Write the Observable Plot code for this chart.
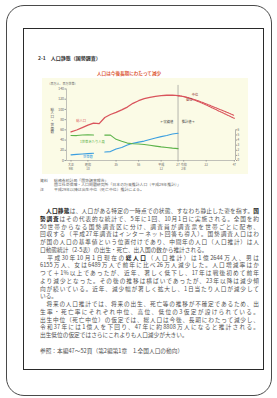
<!DOCTYPE html>
<html><head><meta charset="utf-8">
<script src="https://cdn.jsdelivr.net/npm/d3@7"></script>
<script src="https://cdn.jsdelivr.net/npm/@observablehq/plot@0.6"></script>
<style>
html,body{margin:0;padding:0;background:#fff;}
body{width:277px;height:398px;position:relative;overflow:hidden;font-family:"Noto Sans CJK JP","Noto Sans",sans-serif;}
.abs{position:absolute;white-space:nowrap;}
#frame{left:6px;top:5px;width:266px;height:391px;border:1.5px solid #4a4a4a;border-radius:18px;box-sizing:border-box;}
#page{left:23px;top:28px;width:241px;height:342px;border:1.2px solid #2a2a2a;box-sizing:border-box;}
#hdr{left:38px;top:55px;font-size:5px;line-height:6px;color:#333;font-weight:bold;}
#ttl{left:97px;top:70.5px;font-size:4.6px;line-height:5px;color:#dd5a36;font-weight:bold;}
#chart{left:42px;top:78px;}
.note{font-size:3.9px;line-height:4.5px;color:#666;}
.body{left:40px;width:219px;font-size:5.7px;line-height:7.75px;color:#505050;}
.j{text-align:justify;text-align-last:justify;}
b{font-weight:bold;color:#222}
</style></head><body>
<div id="frame" class="abs"></div>
<div id="page" class="abs"></div>
<div id="hdr" class="abs">2-1　人口静態（国勢調査）</div>
<div id="ttl" class="abs">人口は今後長期にわたって減少</div>
<div id="chart" class="abs"></div>
<div id="texts"></div>
<script>
// ---- data ----
const censusYears = [1920,1925,1930,1935,1940,1945,1950,1955,1960,1965,1970,1975,1980,1985,1990,1995,2000,2005,2010,2015];
const totalPopulation = [55.96,59.74,64.45,69.25,73.11,72.15,84.12,90.08,94.30,99.21,104.67,111.94,117.06,121.05,123.61,125.57,126.93,127.77,128.06,127.09];
const projYears = [2015,2020,2025,2030,2035,2040,2045,2050,2055,2060,2065];
const projMedium = [127.09,125.33,122.54,119.13,115.22,110.92,106.42,101.92,97.44,92.84,88.08];
const projLow = [127.09,125.1,121.9,118.0,113.5,108.6,103.5,98.2,93.0,87.7,82.5];
const hhYearsPre = [1920,1925,1930,1935,1940];
const householdsPre = [11.1,11.9,12.6,13.4,14.2];
const hhYearsPost = [1950,1955,1960,1965,1970,1975,1980,1985,1990,1995,2000,2005,2010,2015];
const householdsPost = [16.6,17.4,22.5,25.3,30.3,33.6,36.0,38.0,41.0,44.1,46.8,49.1,51.8,53.3];
const sizePre = [4.89,4.88,4.98,5.03,4.99];
const sizePost = [4.97,4.97,4.14,3.75,3.41,3.28,3.22,3.14,2.99,2.82,2.67,2.55,2.42,2.33];
const yTicks = [0,20,40,60,80,100,120,140];
const sizeTicks = [0,1,2,3,4,5,6];
const xTickYears = [1920,1935,1960,1980,2000,2015,2020,2040,2065];
const xTickLabels = ["大正\n9年","昭和\n10","35","55","平成\n12","27","令和\n2年","22","47"];
const seriesLabels = ["総人口","1世帯あたり人員","世帯数"];
const seriesLabelYears = [1929,1939,1935];
const seriesLabelValues = [76.5,36,7];
const variantLabels = ["中位","低位"];
const variantLabelYears = [2030,2025];
const variantLabelValues = [129,119.5];
const periodLabels = ["←実績値","推計値→"];
const periodLabelYears = [2005,2024];
const periodLabelValue = 75;
const yAxisTitle = "総人口・世帯数";
const unitsLabel = "（百万人、百万世帯）";

const noteLines = [["資料","総務省統計局「国勢調査報告」"],
  ["","国立社会保障・人口問題研究所「日本の将来推計人口（平成29年推計）」"],
  ["注","平成29年以降は出生中位（死亡中位）推計による。"]];
const bodyLines = [
 "　**人口静態**は、人口がある特定の一時点での状態、すなわち静止した姿を指す。**国**",
 "**勢調査**はその代表的な統計で、5年に1回、10月1日に実施される。全国を約",
 "50世帯からなる国勢調査区に分け、調査員が調査票を世帯ごとに配布、",
 "回収する（平成27年調査はインターネット回答も導入）。国勢調査人口はわ",
 "が国の人口の基準値という位置付けであり、中間年の人口（人口推計）は人",
 "口動態統計（2-5表）の出生・死亡、出入国の数から推計される。",
 "　平成30年10月1日現在の**総人口**（人口推計）は1億2644万人、男は",
 "6155万人、女は6489万人で前年に比べ26万人減少した。人口増減率はか",
 "つて＋1%以上であったが、近年、著しく低下し、17年は戦後初めて前年",
 "より減少となった。その後の推移は横ばいであったが、23年以降は減少傾",
 "向が続いている。近年、減少幅が著しく拡大し、1日当たり人口が減少して",
 "いる。",
 "　将来の人口推計では、将来の出生、死亡等の推移が不確定であるため、出",
 "生率・死亡率にそれぞれ中位、高位、低位の3仮定が設けられている。",
 "出生中位（死亡中位）の仮定では、総人口は今後、長期にわたって減少し、",
 "令和37年には1億人を下回り、47年に約8808万人になると推計される。",
 "出生低位の仮定ではさらにこれよりも人口減少が大きい。"];
const justified = [1,1,1,1,1,0,1,1,1,1,1,0,1,1,1,1,0];
const refLine = "参照：本編47～52頁（第2編第1章　1.全国人口の動向）";

// ---- chart ----
const red = "#d9545c", green = "#5cb34a", blue = "#3a9ee0";
const popRows = censusYears.map((year,i)=>({year, value: totalPopulation[i]}));
const projRows = [...projYears.map((year,i)=>({year, value: projMedium[i], v:"m"})),
                  ...projYears.map((year,i)=>({year, value: projLow[i], v:"l"}))];
const hhRows = [...hhYearsPre.map((year,i)=>({year, value: householdsPre[i], seg:1})),
                ...hhYearsPost.map((year,i)=>({year, value: householdsPost[i], seg:2}))];
const sizeRows = [...hhYearsPre.map((year,i)=>({year, value: sizePre[i], seg:1})),
                  ...hhYearsPost.map((year,i)=>({year, value: sizePost[i], seg:2}))];
const sLab = seriesLabels.map((label,i)=>({label, year: seriesLabelYears[i], value: seriesLabelValues[i], color:[red,green,blue][i]}));
const vLab = variantLabels.map((label,i)=>({label, year: variantLabelYears[i], value: variantLabelValues[i]}));
const pLab = periodLabels.map((label,i)=>({label, year: periodLabelYears[i], value: periodLabelValue}));

const chart = Plot.plot({
  width: 206, height: 96,
  marginLeft: 24, marginRight: 13, marginTop: 10.5, marginBottom: 14,
  style: {background: "#fbfbe6", fontFamily: "'Noto Sans CJK JP', sans-serif", overflow: "visible"},
  x: {domain: [1916, 2066]},
  y: {domain: [0, 140]},
  marks: [
    Plot.ruleY([0], {stroke: "#999", strokeWidth: 0.6}),
    Plot.ruleX([1916], {y1: 0, y2: 140, stroke: "#999", strokeWidth: 0.6}),
    Plot.ruleX([2066], {y1: 0, y2: 60, stroke: "#888", strokeWidth: 0.6}),
    Plot.axisY({ticks: yTicks, tickSize: 1.5, tickPadding: 1, fontSize: 3.4, color: "#666", stroke: "#999", label: null}),
    Plot.axisY({anchor: "right", ticks: sizeTicks.map(d=>d*10), tickFormat: d=>String(d/10), tickSize: 1.2, tickPadding: 0.8, fontSize: 3, color: "#666", stroke: "#999", label: null}),
    Plot.axisX({ticks: xTickYears, tickFormat: d => xTickLabels[xTickYears.indexOf(d)], tickSize: 1.5, tickPadding: 1, fontSize: 3, lineHeight: 1.3, color: "#666", stroke: "#999", label: null}),
    Plot.ruleX([2015], {y1: 0, y2: 147, stroke: "#888", strokeWidth: 0.6}),
    Plot.line(hhRows, {x: "year", y: "value", z: "seg", stroke: blue, strokeWidth: 1.1}),
    Plot.line(sizeRows, {x: "year", y: d => d.value*10, z: "seg", stroke: green, strokeWidth: 1.1}),
    Plot.line(popRows, {x: "year", y: "value", stroke: red, strokeWidth: 1.3}),
    Plot.line(projRows, {x: "year", y: "value", z: "v", stroke: red, strokeWidth: 1.1, strokeDasharray: "1.6,0.9"}),
    Plot.text(sLab, {x: "year", y: "value", text: "label", fill: "color", fontSize: 3.3, ariaLabel: "series-labels"}),
    Plot.text(vLab, {x: "year", y: "value", text: "label", fill: "#8a2a2a", fontSize: 3.2}),
    Plot.text(pLab, {x: "year", y: "value", text: "label", fill: "#444", fontSize: 3.2}),
    Plot.text([yAxisTitle.split("").join("\n")], {frameAnchor: "left", dx: -16, dy: -4, lineHeight: 1.05, fontSize: 3.6, fill: "#555"}),
    Plot.text([unitsLabel], {frameAnchor: "top-left", dx: -19, dy: -6.5, textAnchor: "start", fontSize: 3, fill: "#666"})
  ]
});
document.getElementById("chart").appendChild(chart);
// framed boxes around the series labels
chart.querySelectorAll('g[aria-label="series-labels"] text').forEach((t, i) => {
  const b = t.getBBox();
  const r = document.createElementNS("http://www.w3.org/2000/svg", "rect");
  r.setAttribute("x", b.x - 0.7); r.setAttribute("y", b.y - 0.3);
  r.setAttribute("width", b.width + 1.4); r.setAttribute("height", b.height + 0.6);
  r.setAttribute("fill", "#fff"); r.setAttribute("stroke", sLab[i].color); r.setAttribute("stroke-width", 0.4);
  t.parentNode.insertBefore(r, t);
});

// ---- texts ----
const T = document.getElementById("texts");
function add(html, cls, left, top, extra) {
  const d = document.createElement("div");
  d.className = "abs " + cls;
  d.style.left = left + "px"; d.style.top = top + "px";
  if (extra) Object.assign(d.style, extra);
  d.innerHTML = html;
  T.appendChild(d);
}
noteLines.forEach((n, i) => {
  const top = 177.8 + i*4.5;
  add(n[0], "note", 40, top);
  add(n[1], "note", 54, top);
});
bodyLines.forEach((s, i) => {
  const html = s.replace(/\*\*(.+?)\*\*/g, "<b>$1</b>");
  add(html, "body" + (justified[i] ? " j" : ""), 40, 211 + i*7.75 - 3.875);
});
add(refLine, "body", 40, 350.7 - 3.875, {width: "auto"});
</script>
</body></html>
